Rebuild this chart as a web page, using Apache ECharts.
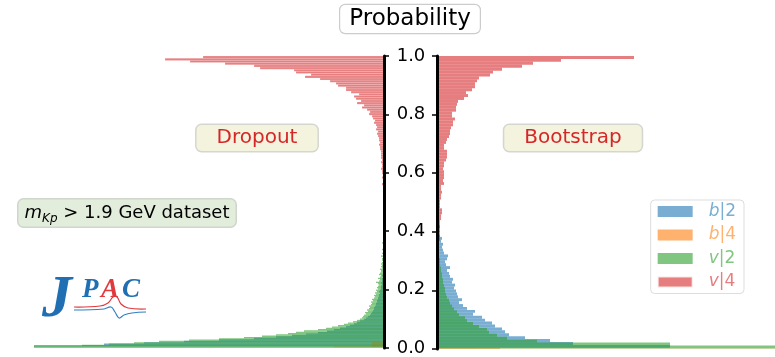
<!DOCTYPE html>
<html><head><meta charset="utf-8">
<script src="https://cdn.jsdelivr.net/npm/echarts@6/dist/echarts.min.js"></script>
<style>html,body{margin:0;padding:0;background:#fff}#c{width:775px;height:357px}</style>
</head><body><div id="c"></div>
<script>
// ---------------- DATA ----------------
const seriesNames = ['b|2', 'b|4', 'v|2', 'v|4'];
const yTicks = [0.0, 0.2, 0.4, 0.6, 0.8, 1.0];

// Dropout (left) histograms: [lo, hi] range, counts bottom-up
const dropB2Range = [0.005, 0.505];
const dropB2 = [360,280,240,200,165,130,108,92,78,66, 57,50,44,38,34,30,27,24,20,18,
  16,14,13,12,11,10,10,9,8,8, 7,7,6,6,5,5,4,5,4,3, 3,3,2,3,2,2,2,1,2,1,
  1,1,0,1,1,0,1,0,1,0, 0,1,0,0,1,0,0,0,1,0, 0,0,1,0,0,0,0,0,0,0,
  0,0,0,0,0,0,0,0,0,0, 0,0,0,0,0,0,0,0,0,0];
const dropB4Range = [0.0, 0.025];
const dropB4 = [900,50,12,12,12,12,12,12,0,0];
const dropV2Range = [0.002, 0.452];
const dropV2 = [360,302,275,250,225,195,165,140,122,108, 96,88,80,66,58,52,46,40,36,31,
  27,24,22,21,20,18,19,16,17,15, 14,15,13,12,13,11,12,10,9,10, 8,9,7,8,6,7,6,5,6,8,
  5,4,6,4,3,5,4,3,3,4, 2,3,2,3,2,1,2,2,1,3, 1,2,1,1,2,0,1,1,0,2,
  1,0,1,0,0,1,0,0,1,0, 0,0,1,0,0,0,0,1,0,0];
const dropV4Range = [0.25, 1.0];
const dropV4FromTop = [181,219,194,159,130,124,90,88,73,79, 64,54,48,46,38,38,33,25,30,28, 23,
  27,20,22,17,14,15,12,11,9,10, 8,7,8,6,7,6,5,5,4,5, 4,4,3,3,3,3,2,3,2,2, 3,2,2,1,2,1,1,2,1,1,
  0,1,1,0,1,0,0,1,1,0, 1,0,0,0,1,0,0,1,0,0, 0,0,1,0,0,0,0,0,1,0, 0,0,0,0,0,0,0,0,0];

// Bootstrap (right) histograms
const bootB2Range = [0.004, 1.0];
const bootB2 = [233,136,113,88,72,68,65,58,55,48, 45,36,38,30,26,22,25,21,20,19,
  17,18,15,16,13,12,10,13,9,8, 10,11,7,6,5,6,4,5,3,3, 2,3,2,1,2,1,1,2,1,1,
  1,0,1,0,1,0,0,1,0,0, 1,0,0,0,0,0,0,1,1,0, 0,1,0,0,0,0,0,0,0,0,
  0,1,0,0,0,1,0,0,0,0, 0,0,0,0,0,1,0,0,1,1];
const bootB4Range = [0.0, 0.007];
const bootB4 = [900,63,63,63,40,10,3];
const bootV2Range = [0.002, 1.0];
const bootV2 = [400,233,100,70,60,52,50,42,36,30, 28,22,20,17,15,13,12,10,9,8,
  8,7,6,6,5,5,4,4,3,3, 3,2,2,2,2,1,2,1,1,1, 1,0,1,0,0,1,0,0,0,0,
  0,0,0,0,0,0,0,0,0,0, 0,0,0,0,0,0,0,0,0,0, 0,0,0,0,0,0,0,0,0,0,
  0,0,0,0,0,0,0,0,0,0, 0,0,0,0,0,0,0,0,0,0];
const bootV4Range = [0.0, 1.0];
const bootV4FromTop = [197,124,96,85,65,56,53,42,40,38, 38,35,29,31,27,21,20,19,19,15,
  15,18,16,16,14,13,13,12,10,9, 7,7,10,10,10,9,7,7,6,7, 7,7,6,7,4,4,5,4,4,3,
  3,3,5,5,4,4,3,3,3,3, 2,3,3,
  2,2,1,2,1,1,2,1,1,0, 1,1,0,1,0,0,1,0,0,1, 0,0,0,1,0,0,0,0,0,0, 0,0,0,0,0,0,0];

// ---------------- BUILD ----------------
function hist(range, countsBottomUp) {
  const n = countsBottomUp.length, w = (range[1] - range[0]) / n;
  const out = [];
  countsBottomUp.forEach((c, i) => { if (c > 0) out.push([range[0] + i * w, range[0] + (i + 1) * w, c]); });
  return out;
}
const colors = ['rgba(31,119,180,0.6)', 'rgba(255,127,14,0.6)', 'rgba(44,160,44,0.6)', 'rgba(214,39,40,0.6)'];
const leftData = [hist(dropB2Range, dropB2), hist(dropB4Range, dropB4), hist(dropV2Range, dropV2), hist(dropV4Range, dropV4FromTop.slice().reverse())];
const rightData = [hist(bootB2Range, bootB2), hist(bootB4Range, bootB4), hist(bootV2Range, bootV2), hist(bootV4Range, bootV4FromTop.slice().reverse())];

function renderBar(params, api) {
  const c = api.value(2);
  if (!(c > 0)) return null;
  const a = api.coord([0, api.value(0)]);
  const b = api.coord([c, api.value(1)]);
  return { type: 'rect',
    shape: { x: Math.min(a[0], b[0]), y: Math.min(a[1], b[1]), width: Math.abs(b[0] - a[0]), height: Math.abs(b[1] - a[1]) },
    style: api.style() };
}
const series = [];
seriesNames.forEach((nm, i) => {
  const st = { color: colors[i] };
  if (i === 3) { st.borderColor = 'rgba(255,255,255,0.8)'; st.borderWidth = 0.25; }
  series.push({ type: 'custom', name: nm, xAxisIndex: 0, yAxisIndex: 0, clip: true, renderItem: renderBar,
    itemStyle: st, encode: { x: 2, y: [0, 1] }, data: leftData[i], silent: true });
});
seriesNames.forEach((nm, i) => {
  series.push({ type: 'custom', name: nm, xAxisIndex: 1, yAxisIndex: 1, clip: true, renderItem: renderBar,
    itemStyle: { color: colors[i] },
    encode: { x: 2, y: [0, 1] }, data: rightData[i], silent: true });
});

const FONT = '"DejaVu Sans", sans-serif';
const yAxisBase = (pos, showLabel) => ({
  type: 'value', position: pos, min: 0, max: 1, interval: 0.2, z: 10,
  axisLine: { show: true, onZero: false, lineStyle: { color: '#000', width: 3 } },
  axisTick: { show: true, length: 5, lineStyle: { color: '#000', width: 1.5 } },
  axisLabel: { show: showLabel, margin: 27, align: 'center', color: '#000', fontSize: 18, fontFamily: FONT,
    formatter: v => { const t = yTicks.find(x => Math.abs(x - v) < 1e-9); return t === undefined ? '' : t.toFixed(1); } },
  splitLine: { show: false }
});

const legendRich = {};
seriesNames.forEach((nm, i) => {
  legendRich['i' + i] = { fontStyle: 'italic', color: colors[i], fontSize: 17, fontFamily: FONT };
  legendRich['r' + i] = { color: colors[i], fontSize: 17, fontFamily: FONT };
});

const option = {
  animation: false,
  backgroundColor: '#fff',
  grid: [
    { left: 34, top: 56, width: 350, height: 293 },
    { left: 437, top: 56, width: 338, height: 293 }
  ],
  xAxis: [
    { gridIndex: 0, type: 'value', min: 0, max: 350, inverse: true, show: false },
    { gridIndex: 1, type: 'value', min: 0, max: 338, show: false }
  ],
  yAxis: [
    Object.assign({ gridIndex: 0 }, yAxisBase('right', true)),
    Object.assign({ gridIndex: 1 }, yAxisBase('left', false))
  ],
  legend: {
    orient: 'vertical', right: 31, top: 200, icon: 'rect', itemWidth: 35, itemHeight: 11, itemGap: 6.5,
    backgroundColor: '#fff', borderColor: '#ddd', borderWidth: 1, borderRadius: 4, padding: [3, 8, 3, 6],
    data: seriesNames.map((nm, i) => ({ name: nm, textStyle: { color: colors[i] } })),
    formatter: nm => { const i = seriesNames.indexOf(nm); const p = nm.split('|'); return '{i' + i + '|' + p[0] + '}{r' + i + '||' + p[1] + '}'; },
    textStyle: { fontSize: 17, fontFamily: FONT, padding: [0, 0, 0, 11], rich: legendRich }
  },
  graphic: [
    { type: 'text', x: 410, y: 19, z: 20, style: { text: 'Probability', font: '23px ' + FONT, fill: '#000',
      align: 'center', verticalAlign: 'middle', textAlign: 'center', textVerticalAlign: 'middle',
      backgroundColor: '#fff', borderColor: '#ccc', borderWidth: 1.2, borderRadius: 5, padding: [3, 9, 2, 9] } },
    { type: 'text', x: 257, y: 138, z: 20, style: { text: 'Dropout', font: '20px ' + FONT, fill: '#d62728',
      align: 'center', verticalAlign: 'middle', textAlign: 'center', textVerticalAlign: 'middle',
      backgroundColor: '#f4f3de', borderColor: '#d6d6d0', borderWidth: 1.5, borderRadius: 5, padding: [3, 20, 3, 20] } },
    { type: 'text', x: 573, y: 138, z: 20, style: { text: 'Bootstrap', font: '20px ' + FONT, fill: '#d62728',
      align: 'center', verticalAlign: 'middle', textAlign: 'center', textVerticalAlign: 'middle',
      backgroundColor: '#f4f3de', borderColor: '#d6d6d0', borderWidth: 1.5, borderRadius: 5, padding: [3, 20, 3, 20] } },
    { type: 'text', x: 127, y: 213, z: 20, style: {
      text: '{m|m}{s|Kp}{t| > 1.9 GeV dataset}',
      align: 'center', verticalAlign: 'middle', textAlign: 'center', textVerticalAlign: 'middle',
      backgroundColor: '#e2eddc', borderColor: '#cfd6cc', borderWidth: 1.5, borderRadius: 5, padding: [2, 6, 2, 6],
      rich: {
        m: { fontStyle: 'italic', fontSize: 18, fontFamily: FONT, fill: '#000', color: '#000', lineHeight: 23 },
        s: { fontStyle: 'italic', fontSize: 12, fontFamily: FONT, fill: '#000', color: '#000', verticalAlign: 'bottom', lineHeight: 23 },
        t: { fontSize: 18, fontFamily: FONT, fill: '#000', color: '#000', lineHeight: 23 }
      } } },
    // JPAC logo
    { type: 'group', z: 20, children: [
      { type: 'text', x: 42, y: 270, style: { text: 'J', font: 'italic bold 60px "Liberation Serif", serif', fill: '#1f6fb2' } },
      { type: 'text', x: 82, y: 277, style: { text: 'P', font: 'italic bold 27px "Liberation Serif", serif', fill: '#1f6fb2' } },
      { type: 'text', x: 101, y: 277, style: { text: 'A', font: 'italic bold 27px "Liberation Serif", serif', fill: '#e03a3e' } },
      { type: 'text', x: 122, y: 277, style: { text: 'C', font: 'italic bold 27px "Liberation Serif", serif', fill: '#1f6fb2' } },
      { type: 'polyline', shape: { smooth: 0.4, points: [[74,307],[100,306],[108,303],[113,297],[117,297],[121,304],[128,308],[146,309]] },
        style: { stroke: '#e03a3e', lineWidth: 1.2, fill: 'none' } },
      { type: 'polyline', shape: { smooth: 0.4, points: [[74,310],[104,309],[111,307],[115,312],[119,318],[124,315],[132,313],[146,312]] },
        style: { stroke: '#2f7fc0', lineWidth: 1.2, fill: 'none' } }
    ] }
  ],
  series: series
};
const chart = echarts.init(document.getElementById('c'), null, { renderer: 'canvas' });
chart.setOption(option);
</script></body></html>
